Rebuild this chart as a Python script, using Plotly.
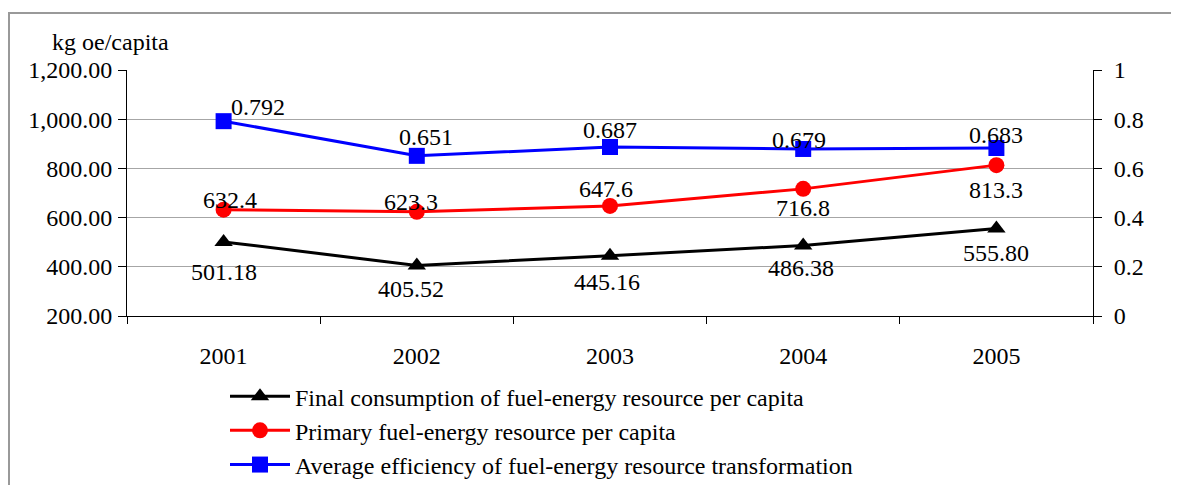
import plotly.graph_objects as go

years = ["2001", "2002", "2003", "2004", "2005"]
final_consumption = [501.18, 405.52, 445.16, 486.38, 555.80]
primary_resource = [632.4, 623.3, 647.6, 716.8, 813.3]
efficiency = [0.792, 0.651, 0.687, 0.679, 0.683]

final_labels = ["501.18", "405.52", "445.16", "486.38", "555.80"]
primary_labels = ["632.4", "623.3", "647.6", "716.8", "813.3"]
eff_labels = ["0.792", "0.651", "0.687", "0.679", "0.683"]

FONT = "Liberation Serif, Times New Roman, serif"
FS = 24
TXT = dict(family=FONT, size=FS, color="black")

# plot area (figure coords; page has an 8px body margin)
L, T, PW, PH = 119, 62, 966, 246
W, H = 1163, 477

fig = go.Figure()
fig.add_trace(go.Scatter(
    x=years, y=final_consumption, mode="lines+markers",
    name="Final consumption of fuel-energy resource per capita",
    line=dict(color="black", width=3),
    marker=dict(symbol="triangle-up", size=16, color="black"),
    legendgroup="a", cliponaxis=False))
fig.add_trace(go.Scatter(
    x=years, y=primary_resource, mode="lines+markers",
    name="Primary fuel-energy resource per capita",
    line=dict(color="#ff0000", width=3),
    marker=dict(symbol="circle", size=16, color="#ff0000"),
    legendgroup="b", cliponaxis=False))
fig.add_trace(go.Scatter(
    x=years, y=efficiency, mode="lines+markers", yaxis="y2",
    name="Average efficiency of fuel-energy resource transformation",
    line=dict(color="#0000ff", width=3),
    marker=dict(symbol="square", size=16, color="#0000ff"),
    legendgroup="c", cliponaxis=False))

ann = []
fin_y = [-30, -24, -26, -22, -25]
fin_x = [0, -6, -3, -2, 0]
for i, (y, t) in enumerate(zip(final_consumption, final_labels)):
    ann.append(dict(x=i, y=y, xref="x", yref="y", text=t, showarrow=False,
                    yshift=fin_y[i], xshift=fin_x[i], font=TXT))
prim_y = [10, 10, 17, -19, -25]
prim_x = [6, -6, -4, 0, 0]
for i, (y, t) in enumerate(zip(primary_resource, primary_labels)):
    ann.append(dict(x=i, y=y, xref="x", yref="y", text=t, showarrow=False,
                    yshift=prim_y[i], xshift=prim_x[i], font=TXT))
eff_y = [14, 19, 17, 9, 13]
eff_x = [34, 9, 0, -4, 0]
for i, (y, t) in enumerate(zip(efficiency, eff_labels)):
    ann.append(dict(x=i, y=y, xref="x", yref="y2", text=t, showarrow=False,
                    yshift=eff_y[i], xshift=eff_x[i], font=TXT))
ann.append(dict(x=(42 - L) / PW, y=(T + PH - 34) / PH, xref="paper", yref="paper",
                text="kg oe/capita", showarrow=False, xanchor="left",
                yanchor="middle", font=TXT))

axis_common = dict(showline=True, linecolor="black", linewidth=1,
                   tickcolor="black", zeroline=False)

fig.update_layout(
    width=W, height=H,
    margin=dict(l=L, r=W - L - PW, t=T, b=H - T - PH, autoexpand=False),
    paper_bgcolor="white", plot_bgcolor="white",
    font=TXT,
    showlegend=True,
    legend=dict(x=(217 - L) / PW, y=-0.236, xanchor="left", yanchor="top",
                font=dict(family=FONT, size=24, color="black"),
                tracegroupgap=0, itemwidth=60,
                bgcolor="rgba(0,0,0,0)"),
    annotations=ann,
    xaxis=dict(type="category", ticks="outside", ticklen=7, tickson="boundaries",
               ticklabelstandoff=18, showgrid=False, range=[-0.5, 4.5],
               tickfont=TXT, **axis_common),
    xaxis2=dict(overlaying="x", anchor="y", side="bottom", range=[-0.5, 4.5],
                tickmode="array", tickvals=[0.5, 1.5, 2.5, 3.5], ticks="inside",
                ticklen=6, showticklabels=False, showgrid=False,
                showline=False, tickcolor="black", zeroline=False),
    yaxis=dict(range=[200, 1200], dtick=200, tickformat=",.2f",
               ticks="outside", ticklen=8, ticklabelstandoff=1,
               showgrid=True, gridcolor="#a6a6a6", gridwidth=1,
               tickfont=TXT, **axis_common),
    yaxis2=dict(range=[0, 1], dtick=0.2, overlaying="y", side="right",
                ticks="outside", ticklen=8, ticklabelstandoff=7,
                showgrid=False, tickformat="~g", tickfont=TXT, **axis_common),
    yaxis3=dict(range=[200, 1200], dtick=200, overlaying="y", side="left",
                anchor="x", ticks="inside", ticklen=10, showticklabels=False,
                showgrid=False, showline=False, tickcolor="black", zeroline=False),
    yaxis4=dict(range=[0, 1], dtick=0.2, overlaying="y", side="right",
                anchor="x", ticks="inside", ticklen=8, showticklabels=False,
                showgrid=False, showline=False, tickcolor="black", zeroline=False),
    shapes=[dict(type="rect", xref="paper", yref="paper",
                 x0=(1 - L) / PW, x1=(W + 40 - L) / PW,
                 y0=(T + PH - (H + 40)) / PH, y1=(T + PH - 5) / PH,
                 line=dict(color="#999999", width=2), layer="below")],
)

fig.write_html("out.html")
